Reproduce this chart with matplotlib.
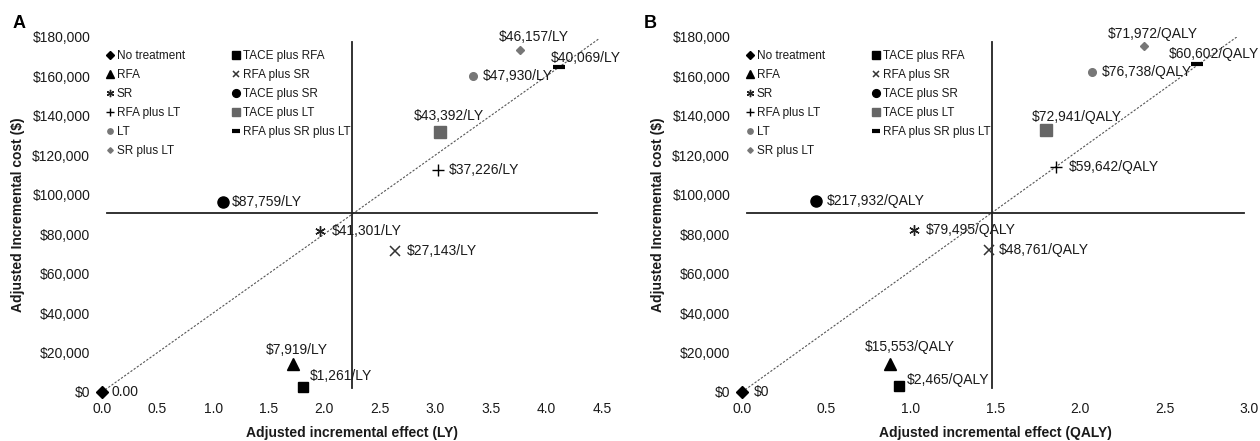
import matplotlib
matplotlib.use("Agg")
import matplotlib.pyplot as plt
from matplotlib.ticker import FuncFormatter, MultipleLocator

plt.rcParams['font.family'] = ['Liberation Sans', 'DejaVu Sans']

treatments = ["No treatment", "RFA", "SR", "RFA plus LT", "LT", "SR plus LT",
              "TACE plus RFA", "RFA plus SR", "TACE plus SR", "TACE plus LT",
              "RFA plus SR plus LT"]

# panel A: life years
effect_ly = [0.00, 1.72, 1.96, 3.02, 3.34, 3.76, 1.81, 2.64, 1.09, 3.04, 4.11]
cost_ly = [0, 14200, 81500, 112400, 160000, 173200, 2500, 71400, 96200, 131700, 164600]
labels_ly = ["0.00", "$7,919/LY", "$41,301/LY", "$37,226/LY", "$47,930/LY", "$46,157/LY",
             "$1,261/LY", "$27,143/LY", "$87,759/LY", "$43,392/LY", "$40,069/LY"]

# panel B: QALY
effect_qaly = [0.00, 0.876, 1.02, 1.86, 2.07, 2.38, 0.93, 1.46, 0.44, 1.80, 2.69]
cost_qaly = [0, 14200, 82000, 114000, 162000, 175500, 3000, 72000, 97000, 133000, 166500]
labels_qaly = ["$0", "$15,553/QALY", "$79,495/QALY", "$59,642/QALY", "$76,738/QALY",
               "$71,972/QALY", "$2,465/QALY", "$48,761/QALY", "$217,932/QALY",
               "$72,941/QALY", "$60,602/QALY"]

# quadrant lines and threshold line
cross_ly = (2.25, 91000)
cross_qaly = (1.48, 91000)
wtp_end_ly = (4.47, 179000)
wtp_end_qaly = (2.96, 182000)

# marker, size, colour, edge width
styles = {
    "No treatment": ("D", 6.5, "black", 1),
    "RFA": ("^", 8, "black", 1),
    "SR": ((6, 2, 0), 7.5, "#222222", 1.0),
    "RFA plus LT": ("+", 9, "black", 1),
    "LT": ("o", 5.5, "#777777", 1),
    "SR plus LT": ("D", 4, "#777777", 1),
    "TACE plus RFA": ("s", 7.5, "black", 1),
    "RFA plus SR": ("x", 7, "#333333", 1.1),
    "TACE plus SR": ("o", 8, "black", 1),
    "TACE plus LT": ("s", 8, "#666666", 1),
    "RFA plus SR plus LT": ("_", 9, "black", 3),
}

# label offsets in pixels (dx, dy, ha)
offs_ly = [(10, 0, "left"), (4, 14, "center"), (12, 0, "left"), (11, 0, "left"),
           (10, 0, "left"), (14, 13, "center"), (7, 11, "left"), (11, 0, "left"),
           (9, 0, "left"), (9, 16, "center"), (27, 9, "center")]
offs_qaly = [(12, 0, "left"), (20, 17, "center"), (11, 0, "left"), (12, 0, "left"),
             (10, 0, "left"), (9, 12, "center"), (8, 6, "left"), (10, 0, "left"),
             (10, 0, "left"), (31, 13, "center"), (17, 10, "center")]

fig = plt.figure(figsize=(12.6, 4.41), dpi=100)
ax_a = fig.add_axes([102 / 1260, 49 / 441, 500 / 1260, 355 / 441])
ax_b = fig.add_axes([742 / 1260, 49 / 441, 507 / 1260, 355 / 441])

txt = "#1a1a1a"


def draw(ax, xs, ys, labels, offs, cross, wtp_end, xmax, unit):
    ax.plot([0, wtp_end[0]], [0, wtp_end[1]], color="#555555", lw=0.8,
            linestyle=(0, (2, 1.5)), zorder=1)
    ax.plot([0.03 * xmax / 3, xmax * 0.99], [cross[1], cross[1]], color="#222222", lw=1.3, zorder=1)
    ax.plot([cross[0], cross[0]], [2000, 177500], color="#222222", lw=1.3, zorder=1)

    for name, x, y, lab, (dx, dy, ha) in zip(treatments, xs, ys, labels, offs):
        m, ms, c, mew = styles[name]
        ax.plot([x], [y], linestyle="none", marker=m, markersize=ms, color=c,
                markeredgewidth=mew, label=name, clip_on=False, zorder=3)
        ax.annotate(lab, (x, y), xytext=(dx, dy), textcoords="offset pixels",
                    ha=ha, va="center", fontsize=10, color=txt, annotation_clip=False)

    ax.set_xlim(0, xmax)
    ax.set_ylim(0, 180000)
    ax.xaxis.set_major_locator(MultipleLocator(0.5))
    ax.yaxis.set_major_locator(MultipleLocator(20000))
    ax.xaxis.set_major_formatter(FuncFormatter(lambda v, p: f"{v:.1f}"))
    ax.yaxis.set_major_formatter(FuncFormatter(lambda v, p: f"${v:,.0f}"))
    ax.tick_params(length=0, labelsize=10, labelcolor=txt)
    ax.tick_params(axis="y", pad=8.5)
    ax.tick_params(axis="x", pad=7.5)
    for s in ax.spines.values():
        s.set_visible(False)
    ax.set_xlabel(f"Adjusted incremental effect ({unit})", fontsize=10,
                  fontweight="bold", color=txt, labelpad=7)
    ax.set_ylabel("Adjusted Incremental cost ($)", fontsize=10,
                  fontweight="bold", color=txt, labelpad=5)

    ax.legend(ncol=2, frameon=False, loc="upper left", bbox_to_anchor=(0.008, 0.962),
              fontsize=8.5, markerscale=0.7, handlelength=0.6, handletextpad=0.3,
              columnspacing=4.0, labelspacing=0.58, borderpad=0, borderaxespad=0,
              labelcolor=txt)


draw(ax_a, effect_ly, cost_ly, labels_ly, offs_ly, cross_ly, wtp_end_ly, 4.5, "LY")
draw(ax_b, effect_qaly, cost_qaly, labels_qaly, offs_qaly, cross_qaly, wtp_end_qaly, 3.0, "QALY")

fig.text(13 / 1260, 1 - 24 / 441, "A", fontsize=13, fontweight="bold", va="center")
fig.text(644 / 1260, 1 - 23 / 441, "B", fontsize=13, fontweight="bold", va="center")

fig.savefig("out.png", dpi=100)
